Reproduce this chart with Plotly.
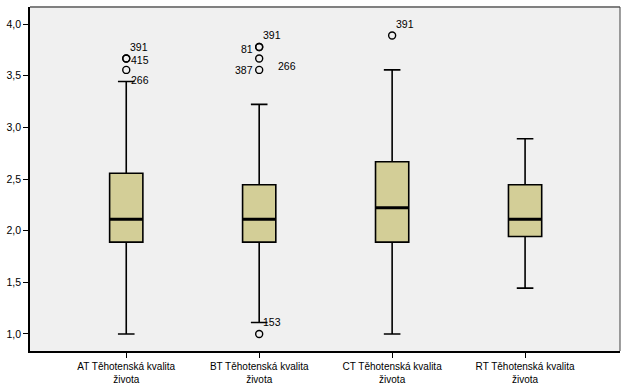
import plotly.graph_objects as go

categories = ["AT Těhotenská kvalita<br>života", "BT Těhotenská kvalita<br>života",
              "CT Těhotenská kvalita<br>života", "RT Těhotenská kvalita<br>života"]
q1 = [1.889, 1.889, 1.889, 1.944]
median = [2.111, 2.111, 2.222, 2.111]
q3 = [2.556, 2.444, 2.667, 2.444]
lower_fence = [1.0, 1.111, 1.0, 1.444]
upper_fence = [3.444, 3.222, 3.556, 2.889]

# outliers: (category index, value, case id)
outlier_cat = [0, 0, 0, 1, 1, 1, 1, 1, 2]
outlier_val = [3.667, 3.667, 3.556, 3.778, 3.778, 3.667, 3.556, 1.0, 3.889]
outlier_id = ["391", "415", "266", "391", "81", "266", "387", "153", "391"]
# label placement (style): xanchor, xshift, yshift
label_style = [("left", 2, 11), ("left", 3, -2), ("left", 3, -10),
               ("left", 2, 12), ("right", -4, -2), ("left", 17, -8),
               ("right", -4, 0), ("left", 2, 12), ("left", 2, 12)]

tick_vals = [1.0, 1.5, 2.0, 2.5, 3.0, 3.5, 4.0]

FILL = "#d3ce97"
BOXW = 0.25
FONT = "Liberation Sans, Arial"

fig = go.Figure()
for i in range(len(categories)):
    fig.add_trace(go.Box(
        x=[i], q1=[q1[i]], median=[median[i]], q3=[q3[i]],
        lowerfence=[lower_fence[i]], upperfence=[upper_fence[i]],
        width=BOXW, whiskerwidth=0.5, fillcolor=FILL,
        line=dict(color="#000000", width=1.6), boxpoints=False,
        showlegend=False, hoverinfo="skip"))
    fig.add_trace(go.Scatter(
        x=[i - BOXW / 2, i + BOXW / 2], y=[median[i], median[i]],
        mode="lines", line=dict(color="#000000", width=3),
        showlegend=False, hoverinfo="skip"))

fig.add_trace(go.Scatter(
    x=outlier_cat, y=outlier_val, mode="markers",
    marker=dict(symbol="circle-open", size=7, color="#000000", line=dict(width=1.4)),
    showlegend=False, hoverinfo="skip"))

for c, v, t, (xa, xs, ys) in zip(outlier_cat, outlier_val, outlier_id, label_style):
    fig.add_annotation(x=c, y=v, text=t, showarrow=False, xanchor=xa, yanchor="middle",
                       xshift=xs, yshift=ys,
                       font=dict(family=FONT, size=10.5, color="#000000"))

fig.update_layout(
    width=629, height=389,
    margin=dict(l=30, r=9, t=7, b=38, autoexpand=False),
    paper_bgcolor="#ffffff", plot_bgcolor="#f0f0f0",
    separators=", ",
    font=dict(family=FONT, size=10.5, color="#000000"),
    xaxis=dict(range=[-0.724, 3.714], tickmode="array", tickvals=list(range(len(categories))),
               ticktext=categories, showgrid=False, zeroline=False, automargin=False,
               tickfont=dict(size=10),
               showline=True, linecolor="#000000", linewidth=1.5,
               ticks="outside", ticklen=5, tickcolor="#000000", tickwidth=1),
    yaxis=dict(range=[0.835, 4.165], tickmode="array", tickvals=tick_vals,
               tickformat=".1f", showgrid=False, zeroline=False, automargin=False,
               showline=True, linecolor="#000000", linewidth=1.5,
               ticks="outside", ticklen=5, tickcolor="#000000", tickwidth=1),
    shapes=[
        dict(type="line", xref="paper", yref="paper", x0=0, x1=1, y0=1, y1=1,
             line=dict(color="#808080", width=2)),
        dict(type="line", xref="paper", yref="paper", x0=1, x1=1, y0=0, y1=1,
             line=dict(color="#404040", width=1)),
    ],
)

fig.write_html("out.html", config={"displayModeBar": False},
               post_script="document.body.style.margin='0px';document.body.style.overflow='hidden';")
